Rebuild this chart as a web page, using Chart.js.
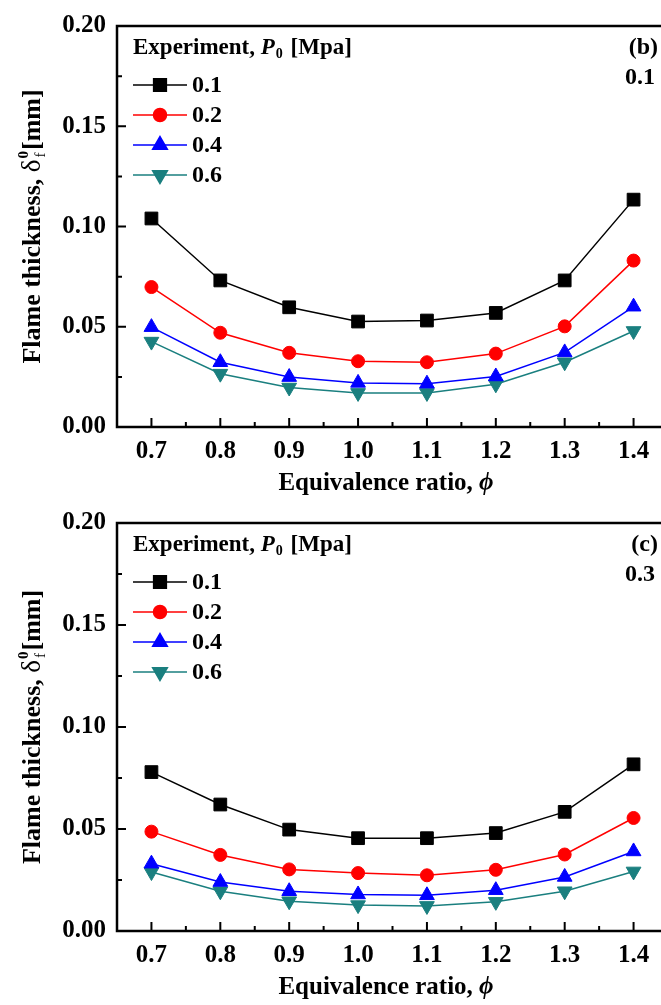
<!DOCTYPE html>
<html>
<head>
<meta charset="utf-8">
<script src="https://cdn.jsdelivr.net/npm/chart.js@4/dist/chart.umd.min.js"></script>
<style>
  html, body { margin: 0; padding: 0; background: #fff; overflow: hidden; }
  #wrap { position: relative; width: 661px; height: 1005px; overflow: hidden; }
  canvas { position: absolute; left: 0; }
</style>
</head>
<body>
<div id="wrap">
  <canvas id="chartB" width="678" height="497" style="top:0"></canvas>
  <canvas id="chartC" width="678" height="508" style="top:497px"></canvas>
</div>
<script>
// equivalence ratio
const phi = [0.7, 0.8, 0.9, 1.0, 1.1, 1.2, 1.3, 1.4];
const pressures = ['0.1', '0.2', '0.4', '0.6'];

// panel (b) - flame thickness [mm]
const bP01 = [0.104, 0.0731, 0.0597, 0.0526, 0.0531, 0.0569, 0.0731, 0.1134];
const bP02 = [0.0698, 0.0470, 0.0370, 0.0328, 0.0323, 0.0366, 0.0502, 0.0830];
const bP04 = [0.0498, 0.0323, 0.0249, 0.0220, 0.0216, 0.0252, 0.0372, 0.0600];
const bP06 = [0.0426, 0.0266, 0.0197, 0.0170, 0.0170, 0.0213, 0.0323, 0.0479];

// panel (c)
const cP01 = [0.0779, 0.0620, 0.0497, 0.0455, 0.0455, 0.0480, 0.0584, 0.0817];
const cP02 = [0.0487, 0.0373, 0.0302, 0.0284, 0.0273, 0.0300, 0.0375, 0.0554];
const cP04 = [0.0330, 0.0240, 0.0195, 0.0179, 0.0175, 0.0200, 0.0265, 0.0390];
const cP06 = [0.0289, 0.0195, 0.0146, 0.0127, 0.0123, 0.0143, 0.0195, 0.0292];

const xTicks = [0.7, 0.8, 0.9, 1.0, 1.1, 1.2, 1.3, 1.4];
const xMinor = [0.75, 0.85, 0.95, 1.05, 1.15, 1.25, 1.35];
const yTicks = [0, 0.05, 0.10, 0.15, 0.20];
const yMinor = [0.025, 0.075, 0.125, 0.175];

const SERIF = "'Liberation Serif', 'Times New Roman', serif";
const styles = [
  { color: '#000000', shape: 'rect', r: 9, rot: 0 },
  { color: '#ff0000', shape: 'circle', r: 6.5, rot: 0 },
  { color: '#0000ff', shape: 'triangle', r: 8.5, rot: 0 },
  { color: '#1a7f7f', shape: 'triangle', r: 8.5, rot: 180 }
];

function font(size, style) {
  return (style || 'bold') + ' ' + size + 'px ' + SERIF;
}

// frame, inward ticks, legend, titles
const decor = {
  id: 'decor',
  afterDraw(chart, args, opts) {
    const ctx = chart.ctx;
    const a = chart.chartArea;
    const xs = chart.scales.x, ys = chart.scales.y;
    ctx.save();
    ctx.strokeStyle = '#000';
    ctx.lineWidth = 2.5;
    ctx.strokeRect(a.left, a.top, a.right - a.left, a.bottom - a.top);

    ctx.lineWidth = 2;
    ctx.beginPath();
    xTicks.forEach(v => { const p = xs.getPixelForValue(v); ctx.moveTo(p, a.bottom); ctx.lineTo(p, a.bottom - 9); });
    xMinor.forEach(v => { const p = xs.getPixelForValue(v); ctx.moveTo(p, a.bottom); ctx.lineTo(p, a.bottom - 5); });
    yTicks.forEach(v => { const p = ys.getPixelForValue(v); ctx.moveTo(a.left, p); ctx.lineTo(a.left + 9, p); });
    yMinor.forEach(v => { const p = ys.getPixelForValue(v); ctx.moveTo(a.left, p); ctx.lineTo(a.left + 5, p); });
    ctx.stroke();

    // legend
    ctx.fillStyle = '#000';
    ctx.textBaseline = 'alphabetic';
    ctx.textAlign = 'left';
    let x = a.left + 16;
    const hy = a.top + 28;
    ctx.font = font(23);
    ctx.fillText('Experiment, ', x, hy);
    x += ctx.measureText('Experiment, ').width;
    ctx.font = font(23, 'italic bold');
    ctx.fillText('P', x, hy);
    x += ctx.measureText('P').width;
    ctx.font = font(14);
    ctx.fillText('0', x + 1, hy + 4);
    x += ctx.measureText('0').width + 3;
    ctx.font = font(23);
    ctx.fillText(' [Mpa]', x, hy);

    chart.data.datasets.forEach((ds, i) => {
      const y = a.top + 59 + i * 30;
      const x0 = a.left + 16, x1 = a.left + 70;
      ctx.strokeStyle = ds.borderColor;
      ctx.fillStyle = ds.backgroundColor;
      ctx.lineWidth = 1.5;
      ctx.beginPath();
      ctx.moveTo(x0, y);
      ctx.lineTo(x1, y);
      ctx.stroke();
      Chart.helpers.drawPoint(ctx, {
        pointStyle: ds.pointStyle, radius: ds.pointRadius,
        rotation: ds.pointRotation || 0, borderWidth: 1
      }, (x0 + x1) / 2, y);
      ctx.fillStyle = '#000';
      ctx.font = font(24);
      ctx.textBaseline = 'middle';
      ctx.fillText(ds.label, x1 + 5, y + 1);
      ctx.textBaseline = 'alphabetic';
    });

    // panel tag
    ctx.font = font(24);
    ctx.textAlign = 'right';
    ctx.textBaseline = 'middle';
    ctx.fillText(opts.tag, 658, a.top + 22);
    ctx.fillText(opts.value, 655, a.top + 52);

    // x title
    ctx.textBaseline = 'alphabetic';
    ctx.textAlign = 'left';
    const t1 = 'Equivalence ratio, ';
    ctx.font = font(25);
    const w1 = ctx.measureText(t1).width;
    ctx.font = font(25, 'italic bold');
    const w2 = ctx.measureText('\u03d5').width;
    let tx = 386 - (w1 + w2) / 2;
    const ty = a.bottom + 63;
    ctx.font = font(25);
    ctx.fillText(t1, tx, ty);
    ctx.font = font(25, 'italic bold');
    ctx.fillText('\u03d5', tx + w1, ty);

    // y title (rotated)
    ctx.save();
    ctx.translate(40, (a.top + a.bottom) / 2);
    ctx.rotate(-Math.PI / 2);
    const m1 = 'Flame thickness, ';
    const m2 = '[mm]';
    ctx.font = font(26);
    const mw1 = ctx.measureText(m1).width;
    const mw2 = ctx.measureText(m2).width;
    ctx.font = font(27, 'normal');
    const dw = ctx.measureText('\u03b4').width;
    ctx.font = font(15);
    const sw = ctx.measureText('0').width + 2;
    let sx = -(mw1 + dw + sw + mw2) / 2;
    ctx.font = font(26);
    ctx.fillText(m1, sx, 0);
    ctx.font = font(27, 'normal');
    ctx.fillText('\u03b4', sx + mw1, 0);
    ctx.font = font(15);
    ctx.fillText('0', sx + mw1 + dw + 1, -12);
    ctx.font = font(15, 'normal');
    ctx.fillText('f', sx + mw1 + dw + 2, 5);
    ctx.font = font(26);
    ctx.fillText(m2, sx + mw1 + dw + sw, 0);
    ctx.restore();

    ctx.restore();
  }
};

function makePanel(id, series, tag, value, padTop, xHeight) {
  const datasets = series.map((vals, i) => ({
    label: pressures[i],
    data: phi.map((p, k) => ({ x: p, y: vals[k] })),
    borderColor: styles[i].color,
    backgroundColor: styles[i].color,
    borderWidth: 1.5,
    pointStyle: styles[i].shape,
    pointRadius: styles[i].r,
    pointRotation: styles[i].rot,
    pointBorderWidth: 1,
    pointHoverRadius: styles[i].r,
    tension: 0
  }));

  return new Chart(document.getElementById(id), {
    type: 'line',
    data: { datasets },
    options: {
      responsive: false,
      animation: false,
      events: [],
      layout: { padding: { top: padTop, right: 8, left: 0, bottom: 0 } },
      plugins: {
        legend: { display: false },
        tooltip: { enabled: false },
        decor: { tag: tag, value: value }
      },
      scales: {
        x: {
          type: 'linear',
          min: 0.65,
          max: 1.45,
          afterBuildTicks: s => { s.ticks = xTicks.map(v => ({ value: v })); },
          afterFit: s => { s.height = xHeight; },
          grid: { display: false, drawTicks: false },
          border: { display: false },
          ticks: {
            padding: 10,
            color: '#000',
            font: { family: SERIF, size: 25, weight: 'bold' },
            callback: v => Number(v).toFixed(1),
            maxRotation: 0
          }
        },
        y: {
          min: 0,
          max: 0.2,
          afterBuildTicks: s => { s.ticks = yTicks.map(v => ({ value: v })); },
          afterFit: s => { s.width = 117; },
          grid: { display: false, drawTicks: false },
          border: { display: false },
          ticks: {
            padding: 11,
            color: '#000',
            font: { family: SERIF, size: 25, weight: 'bold' },
            callback: v => Number(v).toFixed(2)
          }
        }
      }
    },
    plugins: [decor]
  });
}

makePanel('chartB', [bP01, bP02, bP04, bP06], '(b)', '0.1', 16, 70);
makePanel('chartC', [cP01, cP02, cP04, cP06], '(c)', '0.3', 17, 74);
</script>
</body>
</html>
